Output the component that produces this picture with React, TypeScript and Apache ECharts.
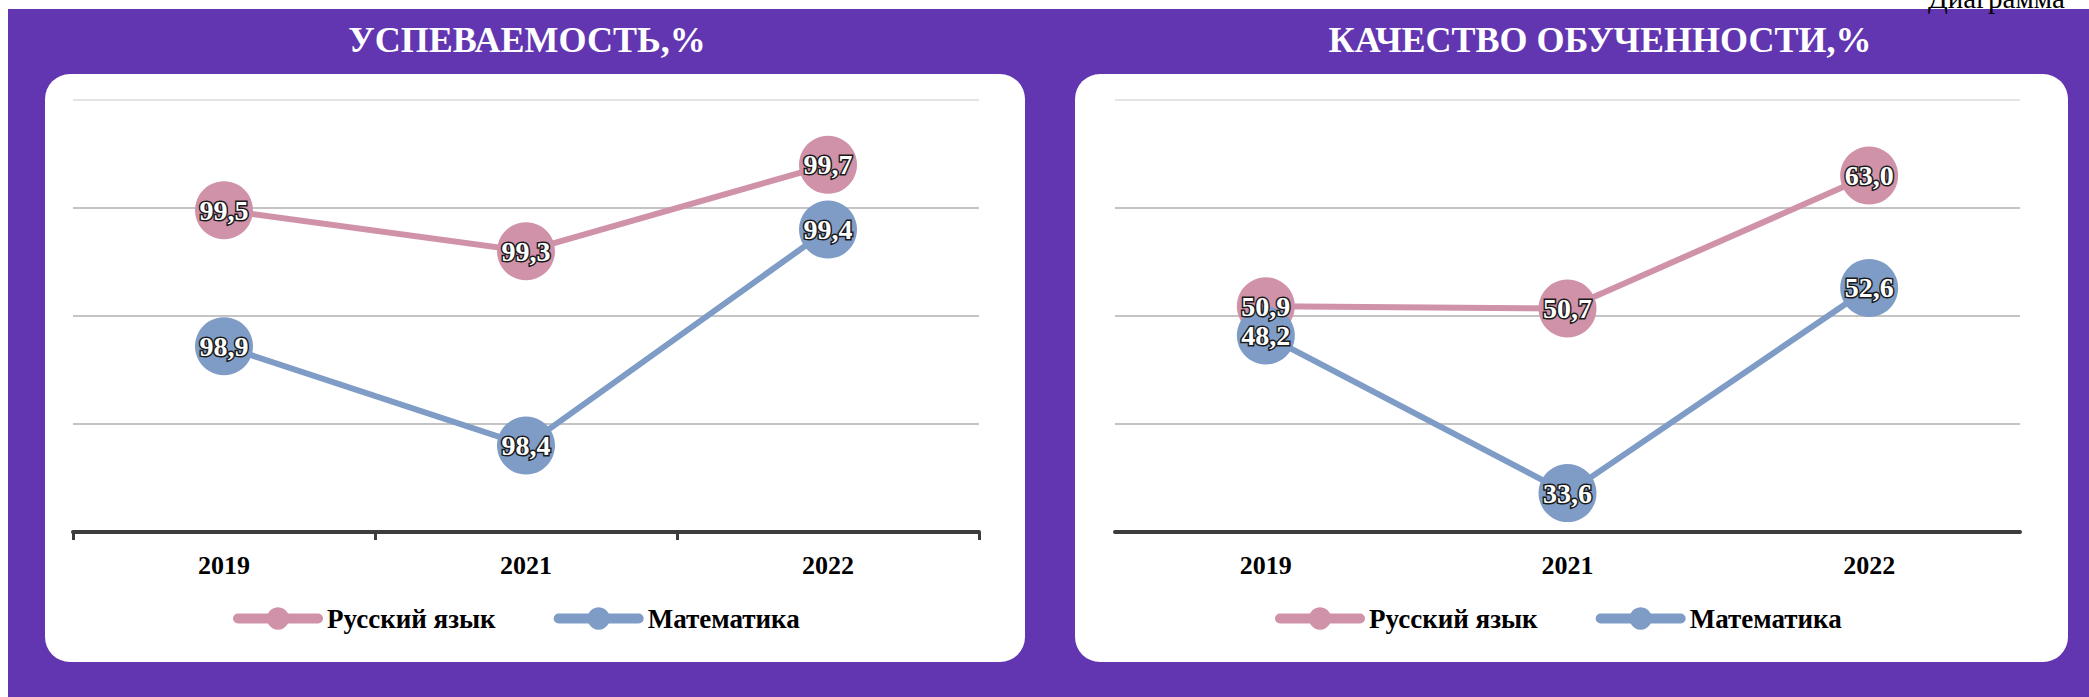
import React, { useEffect, useRef } from "react";
import * as echarts from "echarts";

const years = ["2019", "2021", "2022"];
const seriesNames = ["Русский язык", "Математика"];
const perfRussian = [99.49, 99.3, 99.7];
const perfMath = [98.86, 98.4, 99.4];
const qualRussian = [50.9, 50.7, 63.0];
const qualMath = [48.2, 33.6, 52.6];
const perfAxis = { min: 98, max: 100, interval: 0.5 };
const qualAxis = { min: 30, max: 70, interval: 10 };
const titleLeft = "УСПЕВАЕМОСТЬ,%";
const titleRight = "КАЧЕСТВО ОБУЧЕННОСТИ,%";
const pageCaption = "Диаграмма";

const PINK = "#D092A8";
const BLUE = "#7E9CC6";
const PURPLE = "#6236B1";
const FONT = "'Liberation Serif', 'Times New Roman', serif";

export default function App() {
  const ref = useRef<HTMLDivElement>(null);
  useEffect(() => {
    if (!ref.current) return;
    const chart = echarts.init(ref.current, null, { renderer: "svg" });
    const fmt = (p: any) => Number(p.value).toFixed(1).replace(".", ",");
    const mkSeries = (name: string, data: number[], color: string, idx: number) => ({
      type: "line",
      name,
      data,
      xAxisIndex: idx,
      yAxisIndex: idx,
      symbol: "circle",
      symbolSize: 58,
      color,
      lineStyle: { color, width: 6 },
      itemStyle: { color },
      label: {
        show: true,
        position: "inside",
        formatter: fmt,
        color: "#fff",
        fontFamily: FONT,
        fontWeight: "bold",
        fontSize: 28,
        textBorderColor: "#1a1a1a",
        textBorderWidth: 3,
      },
      emphasis: { disabled: true },
    });
    const mkX = (idx: number, ticks: boolean) => ({
      type: "category",
      gridIndex: idx,
      data: years,
      boundaryGap: true,
      axisLine: { show: true, lineStyle: { color: "#3c3c3c", width: 4 } },
      axisTick: { show: ticks, length: 8, interval: 0, lineStyle: { color: "#3c3c3c", width: 3 } },
      axisLabel: {
        margin: 20,
        color: "#000",
        fontFamily: FONT,
        fontWeight: "bold",
        fontSize: 26,
      },
    });
    const mkY = (idx: number, ax: { min: number; max: number; interval: number }) => ({
      type: "value",
      gridIndex: idx,
      min: ax.min,
      max: ax.max,
      interval: ax.interval,
      axisLine: { show: false },
      axisTick: { show: false },
      axisLabel: { show: false },
      splitLine: {
        show: true,
        lineStyle: { color: ["#c4c4c4", "#c4c4c4", "#c4c4c4", "#c4c4c4", "#e4e4e4"], width: 2 },
      },
    });
    const mkLegend = (left: number) => ({
      left,
      top: 605,
      padding: 0,
      orient: "horizontal",
      itemWidth: 80,
      itemHeight: 28,
      itemGap: 58,
      data: seriesNames,
      selectedMode: false,
      lineStyle: { width: 10, cap: "round" },
      textStyle: {
        color: "#000",
        fontFamily: FONT,
        fontWeight: "bold",
        fontSize: 27,
        padding: [0, 0, 0, 4],
      },
    });
    chart.setOption({
      animation: false,
      backgroundColor: "#ffffff",
      graphic: [
        { type: "rect", z: -10, shape: { x: 8, y: 9, width: 2081, height: 688 }, style: { fill: PURPLE } },
        { type: "rect", z: -9, shape: { x: 45, y: 74, width: 980, height: 588, r: 25 }, style: { fill: "#ffffff" } },
        { type: "rect", z: -9, shape: { x: 1075, y: 74, width: 993, height: 588, r: 25 }, style: { fill: "#ffffff" } },
        {
          type: "text",
          z: 5,
          x: 527,
          y: 40,
          style: {
            text: titleLeft,
            fill: "#ffffff",
            font: `bold 36px ${FONT}`,
            align: "center",
            verticalAlign: "middle",
          },
        },
        {
          type: "text",
          z: 5,
          x: 1600,
          y: 40,
          style: {
            text: titleRight,
            fill: "#ffffff",
            font: `bold 36px ${FONT}`,
            align: "center",
            verticalAlign: "middle",
          },
        },
        {
          type: "text",
          z: 5,
          x: 1928,
          y: 12,
          style: {
            text: pageCaption,
            fill: "#000000",
            font: `29px ${FONT}`,
            align: "left",
            verticalAlign: "bottom",
          },
        },
      ],
      grid: [
        { left: 73, width: 906, top: 100, height: 432, outerBoundsMode: "none" },
        { left: 1115, width: 905, top: 100, height: 432, outerBoundsMode: "none" },
      ],
      xAxis: [mkX(0, true), mkX(1, false)],
      yAxis: [mkY(0, perfAxis), mkY(1, qualAxis)],
      legend: [mkLegend(233), mkLegend(1275)],
      series: [
        mkSeries(seriesNames[0], perfRussian, PINK, 0),
        mkSeries(seriesNames[1], perfMath, BLUE, 0),
        mkSeries(seriesNames[0], qualRussian, PINK, 1),
        mkSeries(seriesNames[1], qualMath, BLUE, 1),
      ],
    });
    return () => chart.dispose();
  }, []);
  return (
    <div
      ref={ref}
      style={{ position: "absolute", left: 0, top: 0, width: 2089, height: 697 }}
    />
  );
}
